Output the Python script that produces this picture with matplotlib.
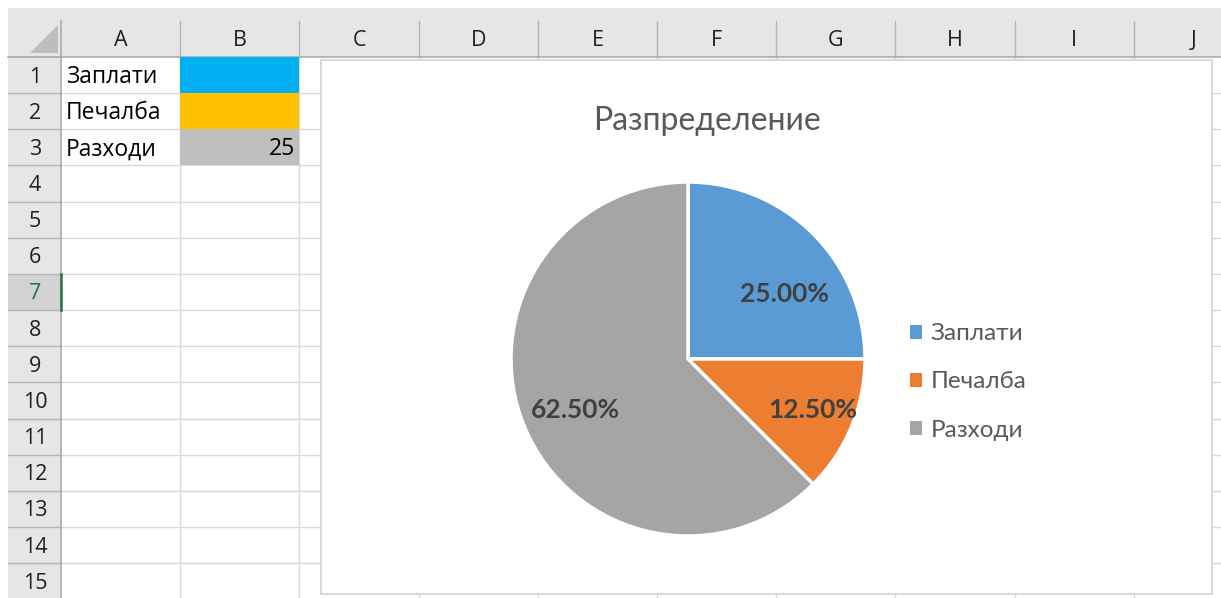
import matplotlib
matplotlib.use("Agg")
import matplotlib.pyplot as plt
from matplotlib.patches import Rectangle, Polygon
import numpy as np

# ---- data ----
categories = ["Заплати", "Печалба", "Разходи"]
values = [10, 5, 25]
cell_fill_colors = ["#00B0F0", "#FFC000", "#BFBFBF"]
cell_values = ["", "", "25"]
column_letters = ["A", "B", "C", "D", "E", "F", "G", "H", "I", "J"]
row_numbers = list(range(1, 16))
chart_title = "Разпределение"
pie_colors = ["#5B9BD5", "#ED7D31", "#A5A5A5"]

FONT = ["Lato", "DejaVu Sans"]
SHEET_FONT = ["Open Sans", "DejaVu Sans"]
plt.rcParams['font.family'] = FONT

W, H = 1221, 598
fig = plt.figure(figsize=(W / 100, H / 100), dpi=100)
bg = fig.add_axes([0, 0, 1, 1])
bg.set_xlim(0, W)
bg.set_ylim(H, 0)
bg.axis("off")

# spreadsheet geometry
hdr_top, hdr_bot = 8, 57
rh_left, rh_right = 8, 61
col_w = 119.2
row_h = 36.15
col_edges = [rh_right + i * col_w for i in range(len(column_letters) + 1)]
row_edges = [hdr_bot + i * row_h for i in range(len(row_numbers) + 1)]
grid_c = "#D9D9D9"

# header backgrounds
bg.add_patch(Rectangle((rh_left, hdr_top), W - rh_left, hdr_bot - hdr_top, fc="#E6E6E6", ec="none", zorder=1))
bg.add_patch(Rectangle((rh_left, hdr_bot), rh_right - rh_left, H - hdr_bot, fc="#E6E6E6", ec="none", zorder=1))
sel = 7
bg.add_patch(Rectangle((rh_left, row_edges[sel - 1]), rh_right - rh_left, row_h, fc="#D2D2D2", ec="none", zorder=1.5))
bg.add_patch(Polygon([[30, 53], [58, 53], [58, 25]], closed=True, fc="#BDBDBD", ec="none", zorder=2))

# cell grid
for x in col_edges[1:]:
    bg.plot([x, x], [hdr_bot, H], color=grid_c, lw=1.0, zorder=2)
for y in row_edges[1:]:
    bg.plot([rh_right, W], [y, y], color=grid_c, lw=1.0, zorder=2)
for x in col_edges[1:]:
    bg.plot([x, x], [21, hdr_bot], color="#B5B5B5", lw=1.0, zorder=2)
for y in row_edges[1:]:
    bg.plot([rh_left, rh_right], [y, y], color="#B5B5B5", lw=1.0, zorder=2)
bg.plot([rh_left, W], [hdr_bot, hdr_bot], color="#ABABAB", lw=1.2, zorder=3)
bg.plot([rh_right, rh_right], [hdr_top + 13, H], color="#ABABAB", lw=1.2, zorder=3)
bg.plot([rh_right, rh_right], [row_edges[sel - 1], row_edges[sel]], color="#217346", lw=1.8, zorder=4)

# header labels
for i, letter in enumerate(column_letters):
    cx = (col_edges[i] + col_edges[i + 1]) / 2
    bg.text(cx, 41, letter, ha="center", va="center", fontsize=15.5, color="#1F1F1F",
            family=SHEET_FONT, zorder=5)
for j, n in enumerate(row_numbers):
    cy = (row_edges[j] + row_edges[j + 1]) / 2
    bg.text(35, cy + 2, str(n), ha="center", va="center", fontsize=15.5,
            color="#217346" if n == sel else "#1F1F1F", family=SHEET_FONT, zorder=5)

# cell contents
for j, (cat, fc, val) in enumerate(zip(categories, cell_fill_colors, cell_values)):
    y0, y1 = row_edges[j], row_edges[j + 1]
    cy = (y0 + y1) / 2
    bg.add_patch(Rectangle((col_edges[1], y0), col_edges[2] - col_edges[1], y1 - y0, fc=fc, ec="none", zorder=4))
    bg.text(col_edges[0] + 5, cy + 2, cat, ha="left", va="center", fontsize=16.5, color="#000000",
            family=SHEET_FONT, zorder=5)
    if val:
        bg.text(col_edges[2] - 4, cy + 2, val, ha="right", va="center", fontsize=16.5, color="#000000",
                family=SHEET_FONT, zorder=5)

# chart area
bg.add_patch(Rectangle((321, 60), 1212 - 321, 594 - 60, fc="white", ec="#D9D9D9", lw=1.5, zorder=6))
bg.text(707, 121, chart_title, ha="center", va="center", fontsize=23, color="#595959", zorder=7)

# pie axes
cx, cy, r = 688, 359, 177
half = 1.1 * r
pax = fig.add_axes([(cx - half) / W, (H - cy - half) / H, 2 * half / W, 2 * half / H])
pax.set_zorder(10)
wedges, texts, autotexts = pax.pie(
    values, colors=pie_colors, startangle=90, counterclock=False,
    autopct=lambda p: f"{p:.2f}%", pctdistance=0.7,
    wedgeprops=dict(edgecolor="white", linewidth=2.5),
    textprops=dict(fontsize=19, fontweight="bold", color="#404040"))
pax.set_xlim(-1.1, 1.1)
pax.set_ylim(-1.1, 1.1)
pax.set_aspect("equal")
pax.axis("off")
label_dist = [0.66, 0.76, 0.70]
label_ang_shift = [-11.0, 0.0, 2.0]
for w, t, d, s in zip(wedges, autotexts, label_dist, label_ang_shift):
    ang = np.deg2rad((w.theta1 + w.theta2) / 2 + s)
    t.set_position((d * np.cos(ang), d * np.sin(ang)))
    t.set_ha("center"); t.set_va("center")

leg = fig.legend(wedges, categories, loc="center left",
                 bbox_to_anchor=(888 / W, (H - 382) / H), frameon=False,
                 fontsize=17.5, handlelength=0.5, handleheight=0.5,
                 handletextpad=0.35, labelspacing=1.12, labelcolor="#595959")
for h in leg.legend_handles:
    h.set_edgecolor("none")
leg.set_zorder(11)

fig.savefig("out.png", dpi=100)
